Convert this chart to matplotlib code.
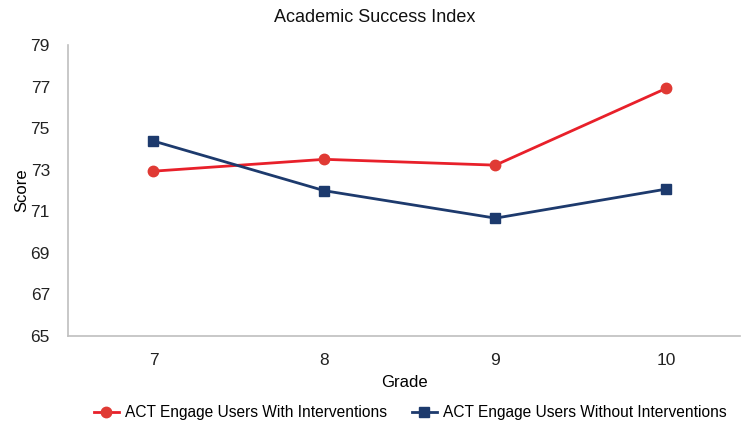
import matplotlib

matplotlib.use("Agg")

import matplotlib.pyplot as plt

plt.rcParams["font.family"] = ["Liberation Sans", "DejaVu Sans"]

grades = [7, 8, 9, 10]
grade_labels = ["7", "8", "9", "10"]
with_interventions = [72.93, 73.5, 73.22, 76.92]
without_interventions = [74.38, 71.99, 70.67, 72.07]
y_ticks = [65, 67, 69, 71, 73, 75, 77, 79]

RED = "#e8202a"
BLUE = "#1d3a6d"

fig = plt.figure(figsize=(7.42, 4.34), dpi=100)
ax = fig.add_axes([0.0916, 0.2258, 0.9057, 0.6705])

ax.plot(grades, with_interventions, color=RED, linewidth=2.0, marker="o",
        markersize=7.5, markerfacecolor="#e03a34", markeredgecolor="#e03a34",
        label="ACT Engage Users With Interventions")
ax.plot(grades, without_interventions, color=BLUE, linewidth=2.0, marker="s",
        markersize=7, label="ACT Engage Users Without Interventions")

ax.set_xlim(6.5, 10.43)
ax.set_ylim(65, 79)
ax.set_xticks(grades, grade_labels)
ax.set_yticks(y_ticks)
ax.tick_params(length=0, labelsize=12.5, colors="#222222")
ax.tick_params(axis="x", pad=12)
ax.tick_params(axis="y", pad=13)

for side in ["top", "right"]:
    ax.spines[side].set_visible(False)
for side in ["left", "bottom"]:
    ax.spines[side].set_color("#bfbfbf")
    ax.spines[side].set_linewidth(1.2)

fig.text(0.505, 0.96, "Academic Success Index", ha="center", va="center",
         fontsize=13, color="#111111")
ax.set_xlabel("Grade", fontsize=12, labelpad=5)
ax.set_ylabel("Score", fontsize=12, labelpad=1)

fig.legend(loc="lower center", bbox_to_anchor=(0.553, 0.0), ncol=2, frameon=False,
           fontsize=11.2, handlelength=1.6, columnspacing=1.6, handletextpad=0.4)

fig.savefig("out.png", dpi=100)
plt.close(fig)
